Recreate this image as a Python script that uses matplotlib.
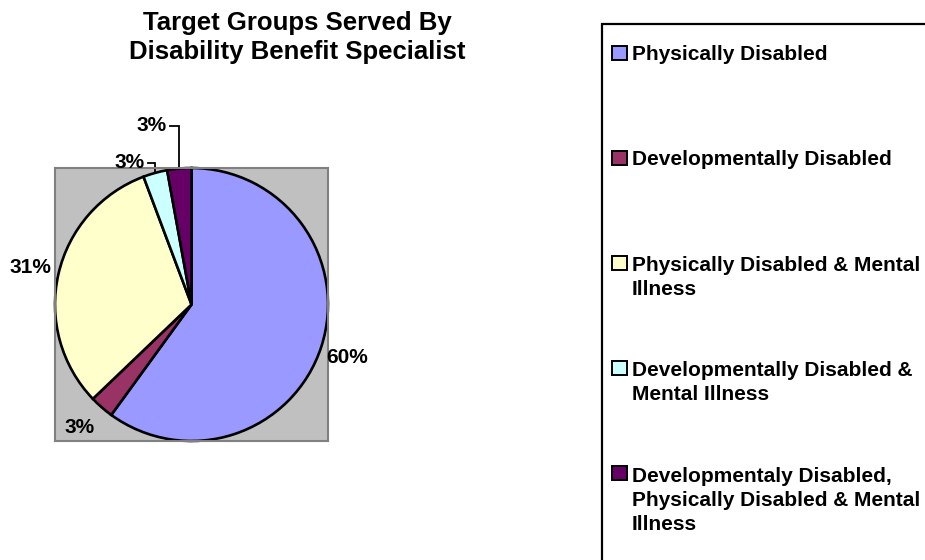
import matplotlib
matplotlib.use("Agg")
import matplotlib.pyplot as plt
from matplotlib.patches import Rectangle
import numpy as np

# Data
categories = [
    "Physically Disabled",
    "Developmentally Disabled",
    "Physically Disabled & Mental\nIllness",
    "Developmentally Disabled &\nMental Illness",
    "Developmentaly Disabled,\nPhysically Disabled & Mental\nIllness",
]
counts = [21, 1, 11, 1, 1]
colors = ["#9999FF", "#993366", "#FFFFCC", "#CCFFFF", "#660066"]
title = "Target Groups Served By\nDisability Benefit Specialist"

W, H = 925, 560
plt.rcParams["font.family"] = ["Liberation Sans", "DejaVu Sans"]
plt.rcParams["font.weight"] = "bold"

fig = plt.figure(figsize=(W / 100, H / 100), dpi=100)
fig.patch.set_facecolor("white")


def fx(px):
    return px / W


def fy(py):
    return 1 - py / H


# Pie plot area (grey square)
ax = fig.add_axes([fx(55), fy(441), fx(328) - fx(55), fy(168) - fy(441)])
wedges, _ = ax.pie(
    counts, colors=colors, startangle=90, counterclock=False, radius=1.0,
    frame=True,
    wedgeprops=dict(edgecolor="black", linewidth=1.9),
)
ax.set_xlim(-1.0, 1.0)
ax.set_ylim(-1.0, 1.0)
ax.set_aspect("equal")
ax.set_xticks([])
ax.set_yticks([])
ax.set_facecolor("#C0C0C0")
for s in ax.spines.values():
    s.set_edgecolor("#808080")
    s.set_linewidth(1.5)

# Percentage labels
total = sum(counts)
pct_labels = [f"{c / total * 100:.0f}%" for c in counts]
label_pos = [(1.14, -0.39), (-0.82, -0.90), (-1.18, 0.27), (-0.34, 1.04), (-0.18, 1.31)]
label_ha = ["center", "center", "center", "right", "right"]
leader = [False, False, False, True, True]

for w, txt, (lx, ly), ha, lead in zip(wedges, pct_labels, label_pos, label_ha, leader):
    ax.text(lx, ly, txt, ha=ha, va="center", fontsize=15, fontweight="bold",
            clip_on=False)
    if lead:
        mid = np.deg2rad((w.theta1 + w.theta2) / 2)
        ex, ey = np.cos(mid), np.sin(mid)
        ax.plot([lx + 0.02, ex, ex], [ly, ly, ey], color="black", lw=1.3,
                clip_on=False, solid_joinstyle="miter")

# Title
fig.text(fx(297), fy(37.5), title, ha="center", va="center", fontsize=18.5,
         fontweight="bold", linespacing=1.22)

# Legend box
fig.add_artist(Rectangle((fx(602), fy(600)), fx(400), fy(24) - fy(600),
                         transform=fig.transFigure, fill=False,
                         edgecolor="black", linewidth=1.6))
marker_y = [53, 158, 263, 368, 473]
line_h = 25
for w, lab, my in zip(wedges, categories, marker_y):
    fig.add_artist(Rectangle((fx(612), fy(my + 7)), fx(15), fy(my - 7) - fy(my + 7),
                             transform=fig.transFigure,
                             facecolor=w.get_facecolor(), edgecolor="black",
                             linewidth=1.4))
    n_extra = lab.count("\n")
    fig.text(fx(632), fy(my + 7 + n_extra * line_h), lab, ha="left",
             va="baseline", fontsize=15, fontweight="bold", linespacing=1.35)

fig.savefig("out.png", dpi=100)
